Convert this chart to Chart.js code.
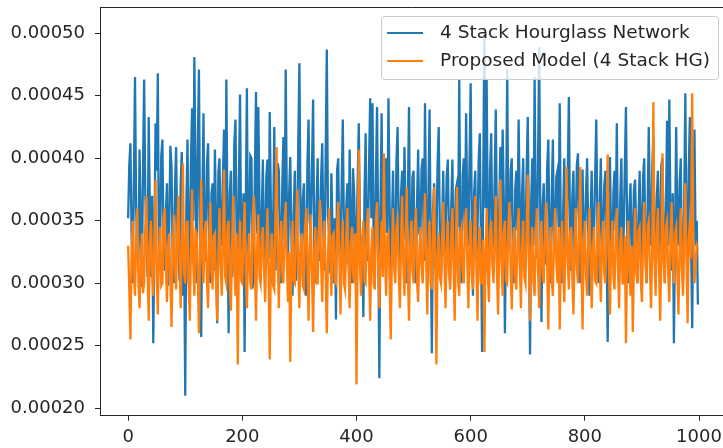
<!DOCTYPE html>
<html>
<head>
<meta charset="utf-8">
<script src="https://cdn.jsdelivr.net/npm/chart.js@4.4.1/dist/chart.umd.min.js"></script>
<style>
  html, body { margin: 0; padding: 0; background: #fff; overflow: hidden; }
  canvas { display: block; }
</style>
</head>
<body>
<canvas id="chart" width="723" height="448"></canvas>
<script>
// loss values, in units of 1e-6, one every 2 iterations
const hgLoss = [
  352, 395, 412, 340, 300, 380, 465, 360, 330, 318, 407, 345, 297, 390, 463, 372, 340, 305, 433, 360,
  305, 370, 252, 335, 428, 390, 468, 310, 330, 402, 415, 330, 310, 355, 380, 298, 345, 410, 393, 320,
  300, 376, 409, 342, 330, 302, 380, 405, 290, 335, 210, 362, 415, 300, 330, 398, 440, 350, 481, 380,
  300, 410, 471, 340, 257, 365, 436, 318, 320, 395, 412, 330, 300, 372, 380, 310, 407, 345, 268, 388,
  400, 342, 330, 384, 423, 312, 463, 350, 260, 371, 390, 305, 320, 412, 431, 338, 300, 380, 451, 325,
  330, 372, 245, 360, 456, 318, 340, 402, 400, 296, 310, 388, 453, 340, 441, 365, 300, 352, 399, 310,
  330, 385, 399, 320, 437, 362, 300, 345, 425, 310, 340, 396, 390, 330, 300, 378, 417, 335, 471, 360,
  320, 372, 401, 338, 290, 356, 390, 302, 330, 412, 476, 345, 310, 368, 380, 318, 290, 395, 431, 350,
  340, 392, 447, 330, 300, 365, 400, 318, 330, 384, 412, 340, 310, 402, 487, 355, 340, 308, 388, 345,
  300, 352, 271, 390, 400, 325, 330, 375, 431, 340, 310, 360, 380, 315, 407, 348, 300, 392, 370, 322,
  330, 380, 428, 345, 300, 338, 273, 370, 420, 318, 330, 395, 448, 352, 444, 330, 310, 385, 441, 340,
  224, 360, 436, 322, 330, 375, 400, 340, 448, 365, 300, 345, 390, 312, 330, 398, 425, 335, 310, 372,
  390, 335, 409, 352, 300, 368, 441, 320, 330, 385, 390, 305, 300, 362, 407, 340, 340, 392, 400, 318,
  444, 350, 310, 372, 439, 330, 244, 358, 380, 312, 330, 395, 425, 340, 300, 348, 390, 322, 340, 385,
  399, 335, 300, 362, 399, 318, 330, 375, 380, 345, 463, 330, 300, 386, 400, 342, 436, 355, 330, 398,
  460, 345, 290, 372, 390, 320, 340, 398, 420, 335, 245, 380, 505, 360, 463, 340, 310, 392, 420, 330,
  330, 382, 439, 345, 300, 358, 409, 325, 423, 368, 260, 352, 471, 338, 330, 390, 400, 318, 300, 375,
  390, 342, 431, 360, 310, 372, 400, 322, 330, 388, 433, 345, 243, 365, 400, 330, 465, 352, 320, 395,
  489, 350, 269, 362, 380, 315, 330, 392, 415, 338, 300, 370, 415, 328, 330, 385, 390, 345, 444, 330,
  300, 358, 400, 322, 330, 382, 449, 345, 310, 368, 390, 318, 340, 395, 404, 335, 300, 355, 391, 328,
  330, 372, 400, 340, 290, 352, 390, 315, 340, 385, 431, 350, 300, 362, 400, 325, 330, 378, 390, 335,
  253, 355, 401, 330, 320, 372, 390, 342, 428, 318, 300, 368, 400, 312, 340, 392, 441, 345, 300, 360,
  380, 322, 330, 375, 383, 338, 300, 352, 390, 318, 340, 385, 400, 330, 300, 362, 425, 345, 330, 392,
  417, 335, 300, 368, 390, 322, 340, 395, 400, 342, 300, 358, 430, 330, 447, 352, 310, 372, 252, 340,
  425, 345, 330, 380, 400, 318, 300, 362, 452, 338, 320, 390, 433, 335, 264, 358, 423, 330, 350, 283
];

const proposedLoss = [
  330, 295, 255, 322, 350, 308, 290, 335, 360, 300, 280, 318, 340, 292, 300, 345, 370, 312, 270, 330,
  350, 310, 290, 338, 383, 305, 275, 326, 345, 298, 300, 352, 360, 315, 285, 330, 340, 302, 265, 322,
  355, 312, 295, 340, 370, 318, 280, 332, 396, 308, 300, 345, 350, 298, 270, 325, 375, 315, 290, 342,
  340, 305, 260, 328, 383, 320, 300, 342, 350, 302, 280, 335, 365, 310, 295, 338, 340, 300, 270, 318,
  360, 315, 290, 332, 391, 305, 300, 345, 350, 298, 278, 328, 370, 312, 290, 340, 235, 318, 350, 302,
  300, 335, 365, 310, 280, 322, 340, 300, 295, 348, 370, 315, 270, 330, 355, 305, 300, 338, 345, 312,
  285, 328, 360, 305, 239, 318, 340, 298, 295, 352, 409, 320, 280, 335, 350, 308, 300, 342, 365, 315,
  285, 325, 237, 312, 350, 302, 300, 338, 375, 310, 280, 330, 340, 298, 295, 345, 360, 318, 270, 328,
  355, 308, 261, 322, 345, 300, 300, 340, 367, 315, 285, 332, 350, 305, 260, 318, 360, 325, 290, 338,
  340, 302, 300, 345, 365, 318, 275, 325, 350, 300, 295, 338, 360, 312, 280, 330, 345, 308, 300, 340,
  219, 330, 407, 315, 290, 335, 350, 302, 300, 342, 360, 310, 270, 328, 345, 300, 295, 350, 365, 318,
  280, 325, 350, 305, 404, 318, 290, 338, 340, 300, 255, 322, 360, 312, 300, 345, 350, 308, 280, 330,
  370, 315, 290, 335, 377, 305, 270, 328, 350, 310, 300, 342, 360, 302, 285, 325, 345, 312, 300, 338,
  372, 318, 275, 330, 350, 300, 295, 345, 377, 312, 235, 322, 340, 305, 300, 338, 365, 315, 280, 328,
  350, 308, 295, 335, 360, 315, 270, 325, 377, 302, 290, 340, 345, 310, 300, 348, 360, 318, 280, 332,
  350, 305, 295, 338, 370, 312, 270, 328, 345, 300, 300, 335, 245, 320, 360, 308, 285, 342, 350, 315,
  300, 335, 370, 310, 275, 325, 383, 318, 290, 340, 350, 302, 300, 345, 365, 312, 279, 330, 345, 305,
  295, 332, 360, 315, 280, 328, 350, 305, 300, 342, 387, 318, 270, 325, 345, 300, 290, 338, 360, 312,
  280, 322, 350, 308, 300, 340, 365, 315, 263, 328, 345, 302, 290, 335, 360, 318, 300, 345, 263, 325,
  350, 310, 285, 332, 393, 318, 295, 338, 345, 305, 275, 325, 360, 312, 300, 342, 393, 315, 263, 330,
  350, 305, 290, 335, 360, 318, 280, 325, 345, 302, 300, 340, 365, 312, 285, 330, 350, 308, 300, 342,
  403, 318, 275, 328, 350, 305, 295, 340, 360, 312, 280, 332, 345, 300, 300, 338, 252, 322, 350, 310,
  290, 330, 261, 315, 360, 308, 300, 342, 345, 302, 285, 335, 365, 318, 300, 345, 350, 312, 280, 328,
  445, 320, 290, 338, 360, 310, 270, 325, 404, 315, 300, 345, 350, 305, 285, 332, 365, 318, 300, 340,
  345, 308, 275, 328, 360, 312, 290, 342, 380, 318, 268, 335, 350, 320, 452, 338, 300, 315, 330, 327
];

const seriesNames = ["4 Stack Hourglass Network", "Proposed Model (4 Stack HG)"];
const seriesColors = ["#1f77b4", "#ff7f0e"];
const iterations = hgLoss.map((_, i) => i * 2);
const xTicks = [0, 200, 400, 600, 800, 1000];
const yTicks = [0.00020, 0.00025, 0.00030, 0.00035, 0.00040, 0.00045, 0.00050];

const ink = "#262626";
const font = { family: "DejaVu Sans", size: 18 };
const legendFont = "18.5px DejaVu Sans";

const toPoints = (vals) => vals.map((v, i) => ({ x: iterations[i], y: v * 1e-6 }));

// top spine plus a matplotlib-like legend box in the upper right
const frameAndLegend = {
  id: "frameAndLegend",
  afterDraw(chart) {
    const { ctx, chartArea } = chart;
    ctx.save();
    ctx.strokeStyle = ink;
    ctx.lineWidth = 1;
    ctx.beginPath();
    ctx.moveTo(chartArea.left, chartArea.top + 0.5);
    ctx.lineTo(chartArea.right, chartArea.top + 0.5);
    ctx.stroke();

    ctx.font = legendFont;
    const widths = chart.data.datasets.map(d => ctx.measureText(d.label).width);
    const w = 59 + Math.max(...widths) + 8;
    const h = 63;
    const right = chartArea.right - 5;
    const left = right - w;
    const top = chartArea.top + 9;

    ctx.fillStyle = "rgba(255,255,255,0.8)";
    ctx.strokeStyle = "#cccccc";
    ctx.beginPath();
    ctx.roundRect(left + 0.5, top + 0.5, w, h, 3);
    ctx.fill();
    ctx.stroke();

    chart.data.datasets.forEach((d, i) => {
      const y = top + 17 + i * 28;
      ctx.strokeStyle = d.borderColor;
      ctx.lineWidth = 2;
      ctx.beginPath();
      ctx.moveTo(left + 6, y);
      ctx.lineTo(left + 42, y);
      ctx.stroke();
      ctx.fillStyle = ink;
      ctx.textBaseline = "middle";
      ctx.textAlign = "left";
      ctx.fillText(d.label, left + 59, y);
    });
    ctx.restore();
  }
};

const myChart = new Chart(document.getElementById("chart").getContext("2d"), {
  type: "line",
  data: {
    datasets: [
      {
        label: seriesNames[0],
        data: toPoints(hgLoss),
        borderColor: seriesColors[0],
        borderWidth: 2.3,
        order: 1,
      },
      {
        label: seriesNames[1],
        data: toPoints(proposedLoss),
        borderColor: seriesColors[1],
        borderWidth: 2.3,
        order: 0,
      },
    ],
  },
  options: {
    responsive: false,
    animation: false,
    devicePixelRatio: 1,
    layout: { padding: { top: 7, left: 0, right: 0, bottom: 0 } },
    elements: { point: { radius: 0 }, line: { tension: 0 } },
    plugins: { legend: { display: false }, tooltip: { enabled: false } },
    scales: {
      x: {
        type: "linear",
        min: -49.3,
        max: 1042,
        afterBuildTicks: (scale) => { scale.ticks = xTicks.map(v => ({ value: v })); },
        afterFit: (scale) => {
          scale.height = 32.3;
          scale.paddingLeft = 0;
          scale.paddingRight = 0;
        },
        ticks: { color: ink, font: font, padding: 6, maxRotation: 0, callback: (v) => String(v) },
        grid: { drawOnChartArea: false, tickLength: 5, color: ink },
        border: { display: true, color: ink, width: 1 },
      },
      y: {
        min: 0.0001941,
        max: 0.000521,
        afterBuildTicks: (scale) => { scale.ticks = yTicks.map(v => ({ value: v })); },
        afterFit: (scale) => {
          scale.width = 100;
          scale.paddingTop = 0;
          scale.paddingBottom = 0;
        },
        ticks: { color: ink, font: font, padding: 10, callback: (v) => v.toFixed(5) },
        grid: { drawOnChartArea: false, tickLength: 5, color: ink },
        border: { display: true, color: ink, width: 1 },
      },
    },
  },
  plugins: [frameAndLegend],
});
</script>
</body>
</html>
